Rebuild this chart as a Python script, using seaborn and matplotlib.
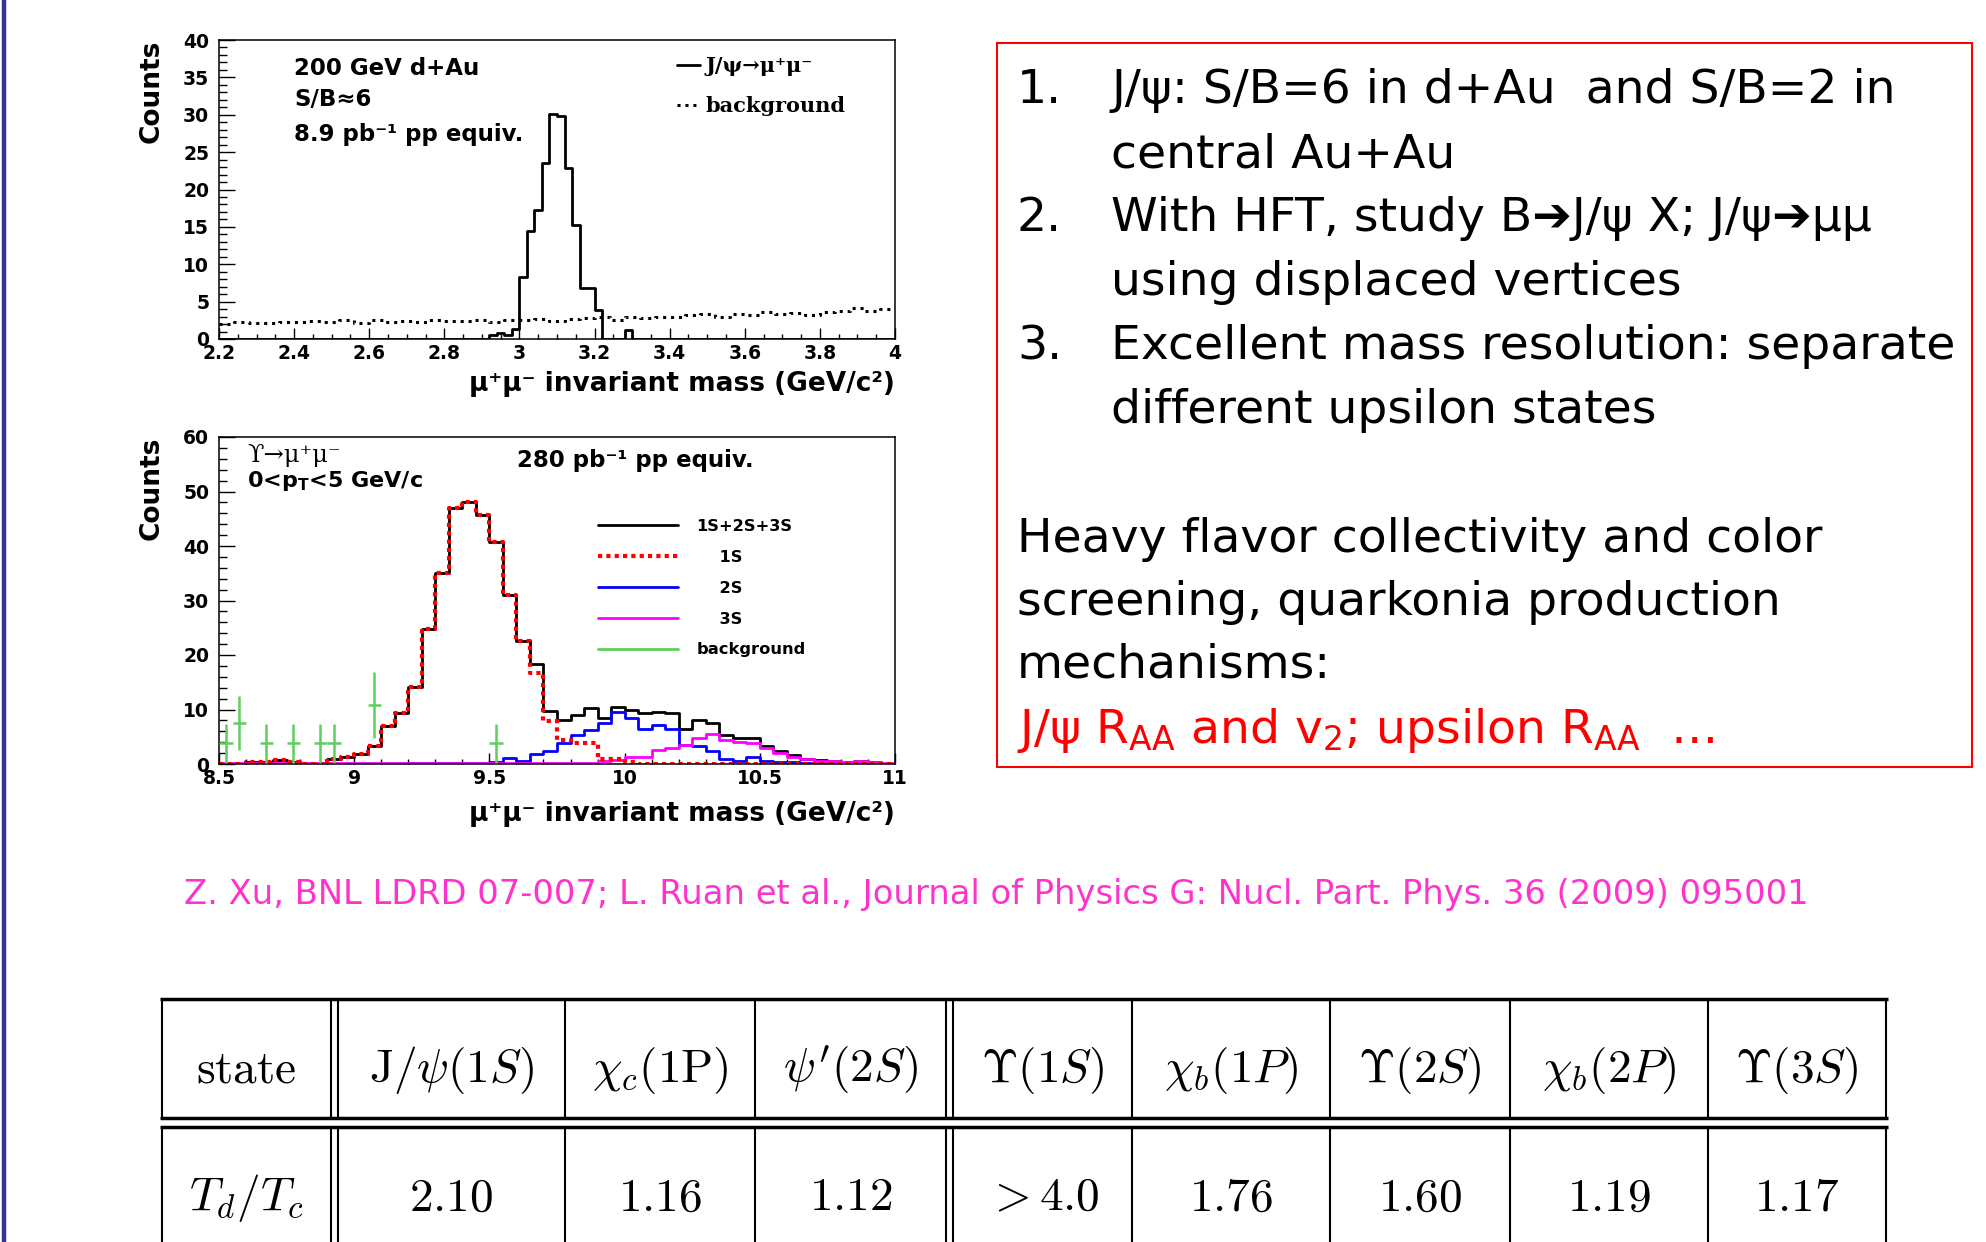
import numpy as np
import pandas as pd
import matplotlib
matplotlib.use("Agg")
import matplotlib.pyplot as plt
from matplotlib.lines import Line2D
from matplotlib.patches import Rectangle
from matplotlib.ticker import MultipleLocator, FormatStrFormatter
import seaborn as sns

W, H = 1986, 1242

# ---------------- data ----------------
# J/psi -> mu+mu- in d+Au, 0.02 GeV/c2 bins from 2.2 to 4.0
jpsi_range = (2.2, 4.0)
jpsi_counts = [
    0, 0, 0, 0, 0, 0, 0, 0, 0, 0,            # 2.2 - 2.4
    0, 0, 0, 0, 0, 0, 0, 0, 0, 0,            # 2.4 - 2.6
    0, 0, 0, 0, 0, 0, 0, 0, 0, 0,            # 2.6 - 2.8
    0, 0, 0, 0, 0, 0, 0.5, 0.8, 0.5, 1.3,    # 2.8 - 3.0
    8.3, 14.5, 17.2, 23.6, 30.1, 29.8, 22.9, 15.2, 6.8, 6.8,  # 3.0 - 3.2
    3.9, 0, 0, 0, 1.2, 0, 0, 0, 0, 0,        # 3.2 - 3.4
    0, 0, 0, 0, 0, 0, 0, 0, 0, 0,            # 3.4 - 3.6
    0, 0, 0, 0, 0, 0, 0, 0, 0, 0,            # 3.6 - 3.8
    0, 0, 0, 0, 0, 0, 0, 0, 0, 0,            # 3.8 - 4.0
]
# dotted background, 0.04 GeV/c2 bins
jpsi_bkg = [
    2.0, 2.3, 2.1, 2.2, 2.3, 2.3, 2.4, 2.3, 2.6, 2.2,
    2.5, 2.3, 2.4, 2.3, 2.6, 2.4, 2.4, 2.5, 2.3, 2.6,
    2.5, 2.7, 2.4, 2.7, 2.8, 2.9, 2.6, 3.0, 2.8, 2.9,
    2.9, 3.2, 3.3, 3.0, 3.4, 3.2, 3.6, 3.3, 3.5, 3.2,
    3.6, 3.8, 4.2, 3.8, 4.0,
]

# Upsilon -> mu+mu-, 0.05 GeV/c2 bins from 8.5 to 11
ups_range = (8.5, 11.0)
ups_total = [
    0, 0, 0.3, 0.3, 0.8, 0.3, 0, 0, 1.0, 1.3,
    1.9, 3.3, 7.0, 9.4, 14.1, 24.7, 35.0, 47.0, 48.0, 45.6,
    40.8, 31.0, 22.5, 18.4, 9.7, 8.0, 9.0, 10.2, 8.4, 10.5,
    9.9, 9.3, 9.6, 9.3, 6.5, 8.1, 7.5, 5.3, 4.7, 4.7,
    3.3, 2.3, 1.7, 1.0, 0.7, 0.6, 0.4, 0.6, 0.3, 0,
]
ups_1s = [
    0, 0, 0.3, 0.3, 0.8, 0.3, 0, 0, 1.0, 1.3,
    1.9, 3.3, 7.0, 9.4, 14.1, 24.7, 35.0, 47.0, 48.0, 45.6,
    40.8, 31.0, 22.5, 16.7, 7.8, 4.4, 3.9, 3.9, 1.0, 1.0,
    0.4, 0, 0, 0, 0, 0, 0, 0, 0, 0,
    0, 0, 0, 0, 0, 0, 0, 0, 0, 0,
]
ups_2s = [
    0, 0, 0, 0, 0, 0, 0, 0, 0, 0,
    0, 0, 0, 0, 0.2, 0.1, 0.1, 0.2, 0.1, 0.2,
    0.3, 1.1, 0.6, 1.8, 2.3, 3.8, 5.3, 6.2, 7.5, 9.5,
    8.4, 6.5, 7.2, 6.5, 3.5, 3.3, 2.3, 1.0, 0.6, 1.3,
    0.6, 0.4, 0.3, 0.2, 0.2, 0.1, 0.1, 0.1, 0.1, 0,
]
ups_3s = [
    0.1, 0.1, 0.1, 0.1, 0.1, 0.1, 0.1, 0.1, 0.1, 0.1,
    0.1, 0.1, 0.1, 0.1, 0.1, 0.1, 0.1, 0.1, 0.1, 0.1,
    0.1, 0.1, 0.1, 0.1, 0.1, 0.1, 0.1, 0.1, 0.5, 0.7,
    1.2, 1.3, 2.6, 2.9, 3.5, 4.7, 5.5, 4.4, 4.1, 3.8,
    2.9, 2.0, 1.3, 0.9, 0.6, 0.6, 0.4, 0.6, 0.4, 0.2,
]
# background points with error bars
bkg_mass = [8.525, 8.575, 8.675, 8.775, 8.875, 8.925, 9.075, 9.525]
bkg_vals = [3.8, 7.5, 3.8, 3.8, 3.8, 3.8, 10.8, 3.8]
bkg_err = [3.6, 5.0, 3.6, 3.6, 3.6, 3.6, 6.0, 3.6]

# text on the slide
box_items = [
    ("1.", ["J/ψ: S/B=6 in d+Au  and S/B=2 in", "central Au+Au"]),
    ("2.", ["With HFT, study B➔J/ψ X; J/ψ➔μμ", "using displaced vertices"]),
    ("3.", ["Excellent mass resolution: separate", "different upsilon states"]),
]
para_lines = ["Heavy flavor collectivity and color",
              "screening, quarkonia production",
              "mechanisms:"]
red_line = r"J/ψ $\mathregular{R_{AA}}$ and $\mathregular{v_2}$; upsilon $\mathregular{R_{AA}}$  …"
citation = ("Z. Xu, BNL LDRD 07-007; L. Ruan et al., Journal of Physics G: "
            "Nucl. Part. Phys. 36 (2009) 095001")

table_head = [r"$\mathrm{state}$", r"$\mathrm{J}/\psi(1S)$", r"$\chi_c(1\mathrm{P})$",
              r"$\psi'(2S)$", r"$\Upsilon(1S)$", r"$\chi_b(1P)$", r"$\Upsilon(2S)$",
              r"$\chi_b(2P)$", r"$\Upsilon(3S)$"]
table_row = [r"$T_d/T_c$", r"$2.10$", r"$1.16$", r"$1.12$", r"$>4.0$",
             r"$1.76$", r"$1.60$", r"$1.19$", r"$1.17$"]

# ---------------- figure ----------------
sns.set_style("ticks")
plt.rcParams["font.family"] = ["DejaVu Sans"]
plt.rcParams["text.color"] = "black"

fig = plt.figure(figsize=(W / 100, H / 100), dpi=100)
ov = fig.add_axes([0, 0, 1, 1])
ov.set_xlim(0, W)
ov.set_ylim(H, 0)
ov.axis("off")
P = ov.transData   # pixel coordinates of the slide


def axbox(l, t, r, b):
    return [l / W, 1 - b / H, (r - l) / W, (b - t) / H]


def step_hist(ax, rng, counts, **kw):
    n = len(counts)
    bw = (rng[1] - rng[0]) / n
    df = pd.DataFrame({"m": rng[0] + bw * (np.arange(n) + 0.5), "w": counts})
    sns.histplot(data=df, x="m", weights="w", bins=n, binrange=rng,
                 element="step", fill=False, ax=ax, **kw)


def root_axes(ax, xlim, ylim, xmaj, xmin, ymaj, ymin):
    ax.set_xlim(*xlim)
    ax.set_ylim(*ylim)
    ax.set_xlabel("")
    ax.set_ylabel("")
    ax.xaxis.set_major_locator(MultipleLocator(xmaj))
    ax.xaxis.set_minor_locator(MultipleLocator(xmin))
    ax.yaxis.set_major_locator(MultipleLocator(ymaj))
    ax.yaxis.set_minor_locator(MultipleLocator(ymin))
    ax.xaxis.set_major_formatter(FormatStrFormatter("%g"))
    ax.yaxis.set_major_formatter(FormatStrFormatter("%g"))
    ax.tick_params(which="both", direction="in", top=False, right=False,
                   width=1.0, colors="black", labelsize=13.5)
    ax.tick_params(axis="x", which="major", length=8, pad=3.5)
    ax.tick_params(axis="x", which="minor", length=3.6)
    ax.tick_params(axis="y", which="major", length=11.5, pad=7)
    ax.tick_params(axis="y", which="minor", length=5.8)
    plt.setp(ax.get_xticklabels() + ax.get_yticklabels(), fontweight="bold")
    for s in ax.spines.values():
        s.set_visible(True)
        s.set_linewidth(1.1)
        s.set_color("black")


# ---- top: J/psi ----
ax1 = fig.add_axes(axbox(219, 40, 895, 339))
step_hist(ax1, jpsi_range, jpsi_bkg, color="black", linewidth=2.2,
          linestyle=(0, (1, 1.6)))
step_hist(ax1, jpsi_range, jpsi_counts, color="black", linewidth=2.0)
root_axes(ax1, jpsi_range, (0, 40), 0.2, 0.05, 5, 1)

serif_b = dict(family=["DejaVu Serif", "DejaVu Sans"], weight="bold", size=15)
ax1.legend([Line2D([], [], color="black", lw=2),
            Line2D([], [], color="black", lw=2.2, ls=(0, (1, 1.6)))],
           ["J/ψ→μ⁺μ⁻", "background"], loc="upper left",
           bbox_to_anchor=(0.6775, 0.945), frameon=False, prop=serif_b,
           handlelength=1.1, handletextpad=0.25, labelspacing=0.95,
           borderpad=0, borderaxespad=0)

for txt, yb in [("200 GeV d+Au", 75), ("S/B≈6", 106), ("8.9 pb⁻¹ pp equiv.", 141)]:
    ax1.text(294, yb, txt, transform=P, fontsize=16.5, fontweight="bold",
             va="baseline")

# ---- bottom: Upsilon ----
ax2 = fig.add_axes(axbox(219, 437, 895, 764))
step_hist(ax2, ups_range, ups_total, color="black", linewidth=2.0)
step_hist(ax2, ups_range, ups_2s, color="#0000ff", linewidth=2.0)
step_hist(ax2, ups_range, ups_3s, color="#ff00ff", linewidth=2.0)
step_hist(ax2, ups_range, ups_1s, color="#ff0000", linewidth=3.0,
          linestyle=(0, (1, 1.0)))
ax2.errorbar(bkg_mass, bkg_vals, yerr=bkg_err, xerr=0.025, fmt="none",
             ecolor="#5ecf5e", elinewidth=1.8, capsize=0, zorder=5)
root_axes(ax2, ups_range, (0, 60), 0.5, 0.1, 10, 2)

ax2.legend([Line2D([], [], color="black", lw=2),
            Line2D([], [], color="#ff0000", lw=3, ls=(0, (1, 1))),
            Line2D([], [], color="#0000ff", lw=2),
            Line2D([], [], color="#ff00ff", lw=2),
            Line2D([], [], color="#5ecf5e", lw=2)],
           ["1S+2S+3S", "    1S", "    2S", "    3S", "background"],
           loc="upper left", bbox_to_anchor=(0.561, 0.75), frameon=False,
           prop=dict(weight="bold", size=11.7), handlelength=4.9,
           handletextpad=1.15, labelspacing=0.98, borderpad=0, borderaxespad=0)

ax2.text(247, 462, "ϒ→μ⁺μ⁻", transform=P, fontsize=17.5,
         family=["DejaVu Serif", "DejaVu Sans"], va="baseline")
ax2.text(247, 487, r"0<p$_{\mathbf{T}}$<5 GeV/c", transform=P, fontsize=16,
         fontweight="bold", math_fontfamily="dejavusans", va="baseline")
ax2.text(517, 467, "280 pb⁻¹ pp equiv.", transform=P, fontsize=16.5,
         fontweight="bold", va="baseline")

# axis titles (ROOT style: flush with the axis end)
for yb in (391, 821):
    ov.text(895, yb, "μ⁺μ⁻ invariant mass (GeV/c²)", fontsize=19,
            fontweight="bold", ha="right", va="baseline")
for yt in (40, 437):
    ov.text(152, yt, "Counts", fontsize=19, fontweight="bold", rotation=90,
            ha="center", va="top")

# ---- left slide border ----
ov.plot([3.5, 3.5], [0, H], color="#33339a", lw=3.2, solid_capstyle="butt")

# ---- red text box ----
ov.add_patch(Rectangle((997, 43), 975, 724, fill=False, ec="#ff0000", lw=1.5))
yb = 103
for num, lines in box_items:
    ov.text(1017, yb, num, fontsize=34, va="baseline")
    for ln in lines:
        ov.text(1111, yb, ln, fontsize=34, va="baseline")
        yb += 64
for ln, yb in zip(para_lines, [552, 615, 678]):
    ov.text(1017, yb, ln, fontsize=34, va="baseline")
ov.text(1017, 743, red_line, fontsize=34, va="baseline", color="#ff0000")

# ---- citation ----
ov.text(184, 904, citation, fontsize=24.3, color="#ff33cc", va="baseline")

# ---- table ----
col_edges = [162, 331, 338, 565, 755, 946, 953, 1132, 1330, 1510, 1708, 1886]
cells = [(162, 331), (338, 565), (565, 755), (755, 946), (953, 1132),
         (1132, 1330), (1330, 1510), (1510, 1708), (1708, 1886)]
for yl in (999, 1118, 1127):
    ov.plot([160, 1888], [yl, yl], color="black", lw=2.5, solid_capstyle="butt")
for xl in col_edges:
    ov.plot([xl, xl], [999, 1118], color="black", lw=1.5, solid_capstyle="butt")
    ov.plot([xl, xl], [1127, H], color="black", lw=1.5, solid_capstyle="butt")
for (l, r), h, v in zip(cells, table_head, table_row):
    ov.text((l + r) / 2, 1070, h, fontsize=34, math_fontfamily="cm",
            ha="center", va="center")
    ov.text((l + r) / 2, 1198, v, fontsize=34, math_fontfamily="cm",
            ha="center", va="center")

fig.savefig("out.png", dpi=100, facecolor="white")
